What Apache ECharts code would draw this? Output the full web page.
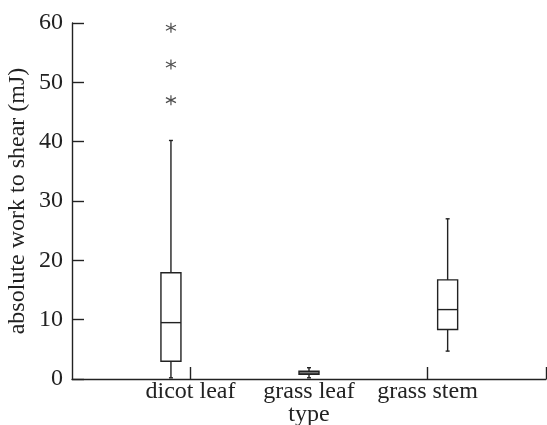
<!DOCTYPE html>
<html>
<head>
<meta charset="utf-8">
<script src="https://cdn.jsdelivr.net/npm/echarts@6/dist/echarts.min.js"></script>
<style>
  html, body { margin: 0; padding: 0; background: #fff; }
  #chart { width: 547px; height: 425px; }
</style>
</head>
<body>
<div id="chart"></div>
<script>
// categories and where their labels / boxes sit on the x scale (0..4)
const categories = ['dicot leaf', 'grass leaf', 'grass stem'];
const labelPositions = [1, 2, 3];
const boxPositions = [0.835, 2.0, 3.17];
const xTickValues = [1, 3, 4];

// five number summaries (mJ)
const mins = [0.2, 0.2, 4.7];
const q1s = [3.0, 0.8, 8.35];
const medians = [9.5, 1.0, 11.7];
const q3s = [17.9, 1.3, 16.7];
const maxs = [40.2, 1.9, 27.0];

// outliers (all in dicot leaf)
const outlierCategory = 0;
const outlierValues = [47.0, 53.0, 59.2];

const yTicks = [0, 10, 20, 30, 40, 50, 60];

const font = "'Liberation Serif', 'Times New Roman', serif";
const ink = '#222';

const boxData = categories.map(function (c, i) {
  return [boxPositions[i], mins[i], q1s[i], medians[i], q3s[i], maxs[i]];
});
const outlierData = outlierValues.map(function (v) {
  return [boxPositions[outlierCategory], v];
});

function renderBox(params, api) {
  const x = api.value(0);
  const pMin = api.coord([x, api.value(1)]);
  const pQ1 = api.coord([x, api.value(2)]);
  const pMed = api.coord([x, api.value(3)]);
  const pQ3 = api.coord([x, api.value(4)]);
  const pMax = api.coord([x, api.value(5)]);
  const half = 10;
  const cap = 2;
  const style = { stroke: ink, lineWidth: 1.4, fill: null };
  return {
    type: 'group',
    children: [
      { type: 'line', shape: { x1: pMax[0], y1: pMax[1], x2: pQ3[0], y2: pQ3[1] }, style: style },
      { type: 'line', shape: { x1: pQ1[0], y1: pQ1[1], x2: pMin[0], y2: pMin[1] }, style: style },
      { type: 'line', shape: { x1: pMax[0] - cap, y1: pMax[1], x2: pMax[0] + cap, y2: pMax[1] }, style: style },
      { type: 'line', shape: { x1: pMin[0] - cap, y1: pMin[1], x2: pMin[0] + cap, y2: pMin[1] }, style: style },
      { type: 'rect', shape: { x: pQ3[0] - half, y: pQ3[1], width: half * 2, height: pQ1[1] - pQ3[1] }, style: { stroke: ink, lineWidth: 1.4, fill: '#fff' } },
      { type: 'line', shape: { x1: pMed[0] - half, y1: pMed[1], x2: pMed[0] + half, y2: pMed[1] }, style: style }
    ]
  };
}

const chart = echarts.init(document.getElementById('chart'));
chart.setOption({
  animation: false,
  grid: { left: 72, right: 1, top: 23, bottom: 46, outerBoundsMode: 'none' },
  xAxis: {
    type: 'value',
    min: 0,
    max: 4,
    interval: 1,
    name: 'type',
    nameLocation: 'middle',
    nameGap: 24,
    nameMoveOverlap: false,
    nameTextStyle: { fontFamily: font, fontSize: 24, color: ink },
    splitLine: { show: false },
    axisLine: { show: true, lineStyle: { color: ink, width: 1.4 } },
    axisTick: {
      show: true,
      inside: true,
      length: 12,
      customValues: xTickValues,
      lineStyle: { color: ink, width: 1.4 }
    },
    axisLabel: {
      customValues: labelPositions,
      margin: 1,
      fontFamily: font,
      fontSize: 24,
      color: ink,
      formatter: function (v) {
        const i = labelPositions.indexOf(v);
        return i >= 0 ? categories[i] : '';
      }
    }
  },
  yAxis: {
    type: 'value',
    min: 0,
    max: 60,
    interval: 10,
    name: 'absolute work to shear (mJ)',
    nameLocation: 'middle',
    nameGap: 42,
    nameMoveOverlap: false,
    nameTextStyle: { fontFamily: font, fontSize: 24, color: ink },
    splitLine: { show: false },
    axisLine: { show: true, lineStyle: { color: ink, width: 1.4 } },
    axisTick: {
      show: true,
      inside: true,
      length: 12,
      customValues: yTicks,
      lineStyle: { color: ink, width: 1.4 }
    },
    axisLabel: {
      margin: 9,
      fontFamily: font,
      fontSize: 24,
      color: ink
    }
  },
  series: [
    {
      type: 'custom',
      renderItem: renderBox,
      encode: { x: 0, y: [1, 2, 3, 4, 5] },
      data: boxData
    },
    {
      type: 'scatter',
      symbol: 'path://M5 0 L5 10 M0.67 2.5 L9.33 7.5 M0.67 7.5 L9.33 2.5',
      symbolSize: 10,
      itemStyle: { color: 'none', borderColor: ink, borderWidth: 1.2 },
      data: outlierData
    }
  ]
});
</script>
</body>
</html>
